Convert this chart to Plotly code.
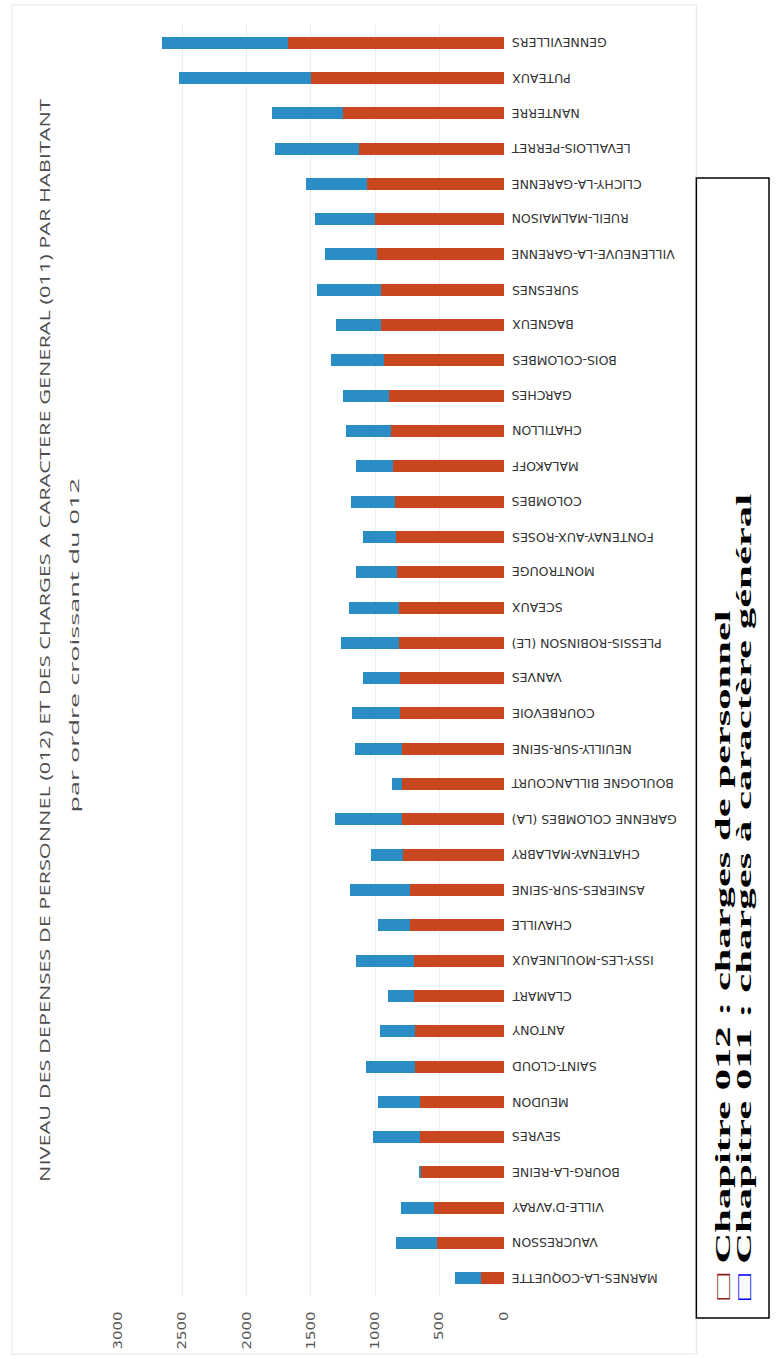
import plotly.graph_objects as go

# Communes, ordered by increasing chapter 012 spending per inhabitant
communes = [
    "MARNES-LA-COQUETTE", "VAUCRESSON", "VILLE-D'AVRAY", "BOURG-LA-REINE",
    "SEVRES", "MEUDON", "SAINT-CLOUD", "ANTONY", "CLAMART",
    "ISSY-LES-MOULINEAUX", "CHAVILLE", "ASNIERES-SUR-SEINE",
    "CHATENAY-MALABRY", "GARENNE COLOMBES (LA)", "BOULOGNE BILLANCOURT",
    "NEUILLY-SUR-SEINE", "COURBEVOIE", "VANVES", "PLESSIS-ROBINSON (LE)",
    "SCEAUX", "MONTROUGE", "FONTENAY-AUX-ROSES", "COLOMBES", "MALAKOFF",
    "CHATILLON", "GARCHES", "BOIS-COLOMBES", "BAGNEUX", "SURESNES",
    "VILLENEUVE-LA-GARENNE", "RUEIL-MALMAISON", "CLICHY-LA-GARENNE",
    "LEVALLOIS-PERRET", "NANTERRE", "PUTEAUX", "GENNEVILLERS",
]

# Chapitre 012 : charges de personnel (EUR / habitant)
personnel_012 = [
    178, 522, 540, 650, 652, 655, 690, 692, 700, 702, 730, 732,
    785, 790, 792, 794, 805, 808, 812, 819, 833, 835, 845, 865,
    878, 891, 929, 955, 959, 987, 1000, 1064, 1127, 1252, 1501, 1679,
]

# Chapitre 011 : charges a caractere general (EUR / habitant)
general_011 = [
    204, 318, 260, 5, 363, 325, 385, 268, 200, 448, 245, 468,
    245, 520, 78, 364, 378, 289, 453, 382, 320, 264, 346, 283,
    348, 361, 412, 348, 496, 402, 471, 475, 654, 550, 1026, 980,
]

x_ticks = [0, 500, 1000, 1500, 2000, 2500, 3000]

TITLE = "NIVEAU DES DEPENSES DE PERSONNEL (012) ET DES CHARGES A CARACTERE GENERAL (011) PAR HABITANT"
SUBTITLE = "par ordre croissant du 012"
LEG_012 = "Chapitre 012 : charges de personnel"
LEG_011 = "Chapitre 011 : charges à caractère général"

RED = "#C8471F"
BLUE = "#2B8DC6"
W, H = 777, 1359


def px(x):
    return x / W


def py(y):
    return 1 - y / H


fig = go.Figure()
fig.add_trace(go.Bar(
    y=communes, x=personnel_012, orientation="h",
    marker=dict(color=RED, line=dict(width=0)), name=LEG_012,
))
fig.add_trace(go.Bar(
    y=communes, x=general_011, orientation="h",
    marker=dict(color=BLUE, line=dict(width=0)), name=LEG_011,
))

# Commune names, written upside down beside the zero line
for name in communes:
    fig.add_annotation(
        x=0, y=name, xref="x", yref="y",
        text=name, showarrow=False, textangle=180,
        xanchor="left", yanchor="middle", xshift=6,
        font=dict(family="DejaVu Sans", size=12.5, color="#333333"),
    )

# Titles, reading bottom to top
fig.add_annotation(
    x=px(38), y=py(640), xref="paper", yref="paper",
    text=TITLE, showarrow=False, textangle=-90,
    xanchor="center", yanchor="middle",
    font=dict(family="Open Sans", size=15, color="#4d4d4d"),
)
fig.add_annotation(
    x=px(68), y=py(645), xref="paper", yref="paper",
    text=SUBTITLE, showarrow=False, textangle=-90,
    xanchor="center", yanchor="middle",
    font=dict(family="Open Sans", size=13.5, color="#4d4d4d"),
)

# Light frame around the chart
fig.add_shape(
    type="rect", xref="paper", yref="paper",
    x0=px(5), x1=px(702), y0=py(1354), y1=py(5),
    line=dict(color="#E4E6EA", width=1), fillcolor="rgba(0,0,0,0)",
    layer="below",
)

# Legend box
fig.add_shape(
    type="rect", xref="paper", yref="paper",
    x0=px(702), x1=px(776), y0=py(1318), y1=py(178),
    line=dict(color="black", width=1.5), fillcolor="white", layer="above",
)
fig.add_annotation(
    x=px(729), y=py(1302), xref="paper", yref="paper",
    text='<b><span style="color:#8B1A1A">□</span> ' + LEG_012 + '</b>',
    showarrow=False, textangle=-90, xanchor="center", yanchor="bottom",
    font=dict(family="Liberation Serif", size=21, color="black"),
)
fig.add_annotation(
    x=px(751), y=py(1302), xref="paper", yref="paper",
    text='<b><span style="color:#0000FF">□</span> ' + LEG_011 + '</b>',
    showarrow=False, textangle=-90, xanchor="center", yanchor="bottom",
    font=dict(family="Liberation Serif", size=21, color="black"),
)

fig.update_layout(
    width=W, height=H, autosize=False,
    margin=dict(l=0, r=0, t=0, b=0),
    paper_bgcolor="white", plot_bgcolor="white",
    barmode="stack", bargap=0.66, showlegend=False,
    font=dict(family="DejaVu Sans"),
    xaxis=dict(
        domain=[px(113), px(506)], range=[3000, 0],
        tickvals=x_ticks, tickangle=-90, ticklabelstandoff=12,
        tickfont=dict(family="DejaVu Sans", size=12, color="#555555"),
        showgrid=True, gridcolor="#ECEEF2", gridwidth=1,
        zeroline=False, showline=False, ticks="",
    ),
    yaxis=dict(
        domain=[py(1296), py(25)],
        showticklabels=False, showgrid=False, zeroline=False,
        showline=False, ticks="",
    ),
)

# The vertical texts are drawn elongated along their reading direction:
# each one is stretched to its target length, around its centre or its start.
# The value-axis labels get a milder stretch, kept against the axis.
stretch_js = """
var gd = document.getElementById('{plot_id}');
var targets = [
  ['NIVEAU DES', 1085, 'center'],
  ['par ordre', 335, 'center'],
  ['Chapitre 012', 690, 'start'],
  ['Chapitre 011', 807, 'start']
];
function stretchAt(t, k, ax, extra) {
  var b = t.getBBox();
  var cy = b.y + b.height / 2;
  t.setAttribute('transform', (extra || '') +
    ' translate(' + ax + ',' + cy + ') scale(' + k + ',1) translate(' + (-ax) + ',' + (-cy) + ')');
}
gd.querySelectorAll('text.annotation-text').forEach(function (t) {
  var s = t.textContent;
  targets.forEach(function (tg) {
    if (s.indexOf(tg[0]) !== -1) {
      var b = t.getBBox();
      if (!b.width) { return; }
      var ax = tg[2] === 'center' ? b.x + b.width / 2 : b.x;
      stretchAt(t, tg[1] / b.width, ax, '');
    }
  });
});
gd.querySelectorAll('g.xtick text').forEach(function (t) {
  var b = t.getBBox();
  if (!b.width) { return; }
  var base = t.getAttribute('transform') || '';
  stretchAt(t, 1.25, b.x + b.width, base);
});
"""

fig.write_html("out.html", post_script=stretch_js)
